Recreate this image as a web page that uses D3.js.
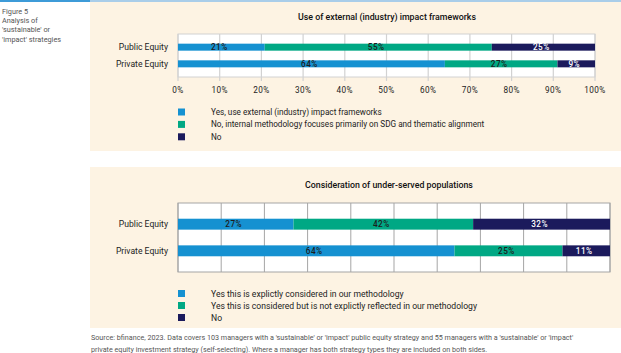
<!DOCTYPE html>
<html>
<head>
<meta charset="utf-8">
<script src="https://cdn.jsdelivr.net/npm/d3@7"></script>
<style>
  body { margin: 0; background: #fff; }
  svg { display: block; font-family: Roboto, "Noto Sans", sans-serif; }
</style>
</head>
<body>
<div class="fig"></div>
<script>
// data
const categories = ["Public Equity", "Private Equity"]
const ticks = [0, 10, 20, 30, 40, 50, 60, 70, 80, 90, 100]

const frameworks_keys = [
  "Yes, use external (industry) impact frameworks",
  "No, internal methodology focuses primarily on SDG and thematic alignment",
  "No"
]
const frameworks_public = [21, 55, 25]
const frameworks_private = [64, 27, 9]

const populations_keys = [
  "Yes this is explictly considered in our methodology",
  "Yes this is considered but is not explictly reflected in our methodology",
  "No"
]
const populations_public = [27, 42, 32]
const populations_private = [64, 25, 11]

const colors = ["#1591d1", "#00a884", "#1b1a5c"]
const label_colors = ["#1d1d1d", "#1d1d1d", "#ffffff"]

const width = 621
const height = 353

const svg = d3.select(".fig").append("svg")
  .attr("width", width)
  .attr("height", height)

// top rule + side caption
svg.append("rect").attr("x", 0).attr("y", 0).attr("width", 90).attr("height", 2).attr("fill", "#3d9bd8")
svg.append("rect").attr("x", 90).attr("y", 0).attr("width", width - 90).attr("height", 2).attr("fill", "#a9cde9")

const caption = ["Figure 5", "Analysis of", "'sustainable' or", "'impact' strategies"]
svg.append("g").selectAll("text")
  .data(caption)
  .enter()
  .append("text")
  .attr("x", 2)
  .attr("y", (d, i) => 14 + i * 9.2)
  .attr("font-size", "7.3px")
  .attr("fill", "#555")
  .text(d => d)

function drawPanel(opt) {
  const g = svg.append("g")

  g.append("rect")
    .attr("x", 90).attr("y", opt.top)
    .attr("width", width - 90).attr("height", opt.bottom - opt.top)
    .attr("fill", "#fdf3e3")

  g.append("text")
    .attr("x", opt.titleX).attr("y", opt.titleY)
    .attr("text-anchor", "middle")
    .attr("font-size", "8.8px")
    .attr("font-weight", 500)
    .attr("fill", "#111")
    .text(opt.title)

  const x = d3.scaleLinear().domain([0, 100]).range([opt.x0, opt.x1])
  const y = d3.scaleBand().domain(categories).range([opt.y0, opt.y1]).padding(opt.pad)

  // plot background
  g.append("rect")
    .attr("x", opt.x0).attr("y", opt.y0)
    .attr("width", opt.x1 - opt.x0).attr("height", opt.y1 - opt.y0)
    .attr("fill", "#fff")
    .attr("stroke", opt.border)
    .attr("stroke-width", 1)

  g.append("g").selectAll("line")
    .data(ticks)
    .enter()
    .append("line")
    .attr("x1", d => x(d)).attr("x2", d => x(d))
    .attr("y1", opt.y0).attr("y2", opt.y1 + opt.tickLen)
    .attr("stroke", opt.grid)
    .attr("stroke-width", opt.gridWidth)

  if (opt.showTicks) {
    g.append("g").selectAll("text")
      .data(ticks)
      .enter()
      .append("text")
      .attr("x", d => x(d))
      .attr("y", opt.y1 + 16)
      .attr("text-anchor", "middle")
      .attr("font-size", "8.2px")
      .attr("letter-spacing", "0.4px")
      .attr("fill", "#222")
      .text(d => d + "%")
  }

  const rows = categories.map((c, i) => {
    const vals = opt.values[i]
    const total = d3.sum(vals)
    let acc = 0
    return vals.map((v, k) => {
      const seg = { cat: c, k: k, v: v, start: acc / total * 100, end: (acc + v) / total * 100 }
      acc += v
      return seg
    })
  })
  const segs = rows.flat()

  g.append("g").selectAll("rect")
    .data(segs)
    .enter()
    .append("rect")
    .attr("x", d => x(d.start))
    .attr("y", d => y(d.cat))
    .attr("width", d => x(d.end) - x(d.start))
    .attr("height", y.bandwidth())
    .attr("fill", d => colors[d.k])

  g.append("g").selectAll("text")
    .data(segs)
    .enter()
    .append("text")
    .attr("x", d => (x(d.start) + x(d.end)) / 2 - 2)
    .attr("y", d => y(d.cat) + y.bandwidth() / 2 + 3)
    .attr("text-anchor", "middle")
    .attr("font-size", "8.2px")
    .attr("font-weight", 500)
    .attr("letter-spacing", "0.5px")
    .attr("fill", d => label_colors[d.k])
    .text(d => d.v + "%")

  g.append("g").selectAll("text")
    .data(categories)
    .enter()
    .append("text")
    .attr("x", opt.x0 - 10)
    .attr("y", d => y(d) + y.bandwidth() / 2 + 3)
    .attr("text-anchor", "end")
    .attr("font-size", "8.6px")
    .attr("fill", "#222")
    .text(d => d)

  const leg = g.append("g").selectAll("g")
    .data(opt.keys)
    .enter()
    .append("g")
    .attr("transform", (d, i) => `translate(${opt.x0}, ${opt.legendY + i * opt.legendStep})`)

  leg.append("rect")
    .attr("x", 0).attr("y", -3.5)
    .attr("width", 7).attr("height", 7)
    .attr("fill", (d, i) => colors[i])

  leg.append("text")
    .attr("x", 33)
    .attr("y", 3)
    .attr("font-size", opt.legendFont)
    .attr("fill", "#222")
    .text(d => d)
}

drawPanel({
  top: 2, bottom: 151,
  title: "Use of external (industry) impact frameworks",
  titleX: 387, titleY: 20,
  x0: 178, x1: 595, y0: 34, y1: 77, pad: 0.58,
  tickLen: 4, grid: "#d2d2d2", gridWidth: 1.2, border: "#d2d2d2",
  showTicks: true,
  values: [frameworks_public, frameworks_private],
  keys: frameworks_keys,
  legendY: 112, legendStep: 12.4, legendFont: "8.2px"
})

drawPanel({
  top: 167, bottom: 328,
  title: "Consideration of under-served populations",
  titleX: 389, titleY: 188,
  x0: 178, x1: 610, y0: 203, y1: 272, pad: 0.59,
  tickLen: 0, grid: "#a5a5a5", gridWidth: 1, border: "#a5a5a5",
  showTicks: false,
  values: [populations_public, populations_private],
  keys: populations_keys,
  legendY: 293.5, legendStep: 12, legendFont: "8.6px"
})

const notes = [
  "Source: bfinance, 2023. Data covers 103 managers with a 'sustainable' or 'impact' public equity strategy and 55 managers with a 'sustainable' or 'impact'",
  "private equity investment strategy (self-selecting). Where a manager has both strategy types they are included on both sides."
]
svg.append("g").selectAll("text")
  .data(notes)
  .enter()
  .append("text")
  .attr("x", 91)
  .attr("y", (d, i) => 340 + i * 11.5)
  .attr("font-size", "7.2px")
  .attr("fill", "#555")
  .text(d => d)
</script>
</body>
</html>
